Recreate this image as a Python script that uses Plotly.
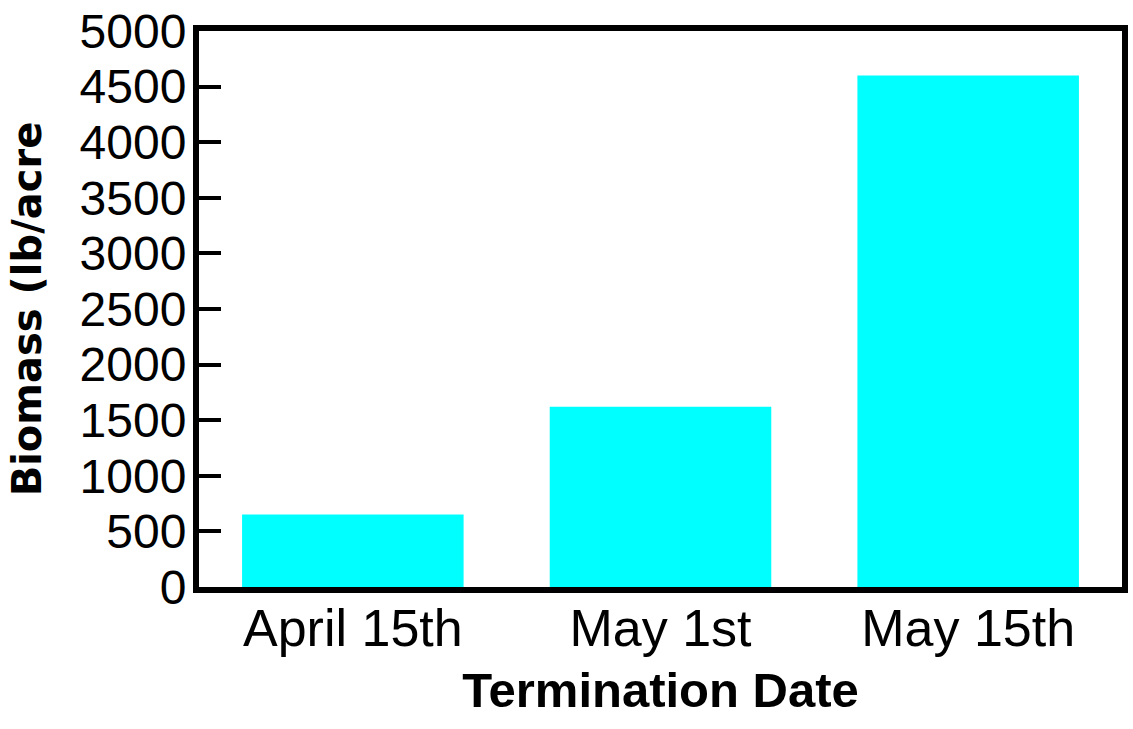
import plotly.graph_objects as go

categories = ["April 15th", "May 1st", "May 15th"]
biomass = [653, 1620, 4600]
y_ticks = [0, 500, 1000, 1500, 2000, 2500, 3000, 3500, 4000, 4500, 5000]

fig = go.Figure(
    go.Bar(x=categories, y=biomass, marker=dict(color="#00FFFF", line=dict(width=0)))
)

fig.update_layout(
    width=1133,
    height=729,
    paper_bgcolor="white",
    plot_bgcolor="white",
    margin=dict(l=199, r=11, t=31, b=142),
    bargap=0.28,
    showlegend=False,
    font=dict(family="Liberation Sans, Arial, sans-serif", color="black"),
)

fig.update_xaxes(
    range=[-0.5, 2.5],
    automargin=False,
    showline=True,
    linecolor="black",
    linewidth=6,
    mirror=True,
    showgrid=False,
    ticks="",
    ticklabelstandoff=-9,
    tickfont=dict(size=52, family="Liberation Sans, Arial, sans-serif", color="black"),
    title=dict(
        text="<b>Termination Date</b>",
        font=dict(size=49, family="Liberation Sans, Arial, sans-serif", color="black"),
        standoff=18,
    ),
)

fig.update_yaxes(
    range=[0, 5000],
    automargin=False,
    tickvals=y_ticks,
    ticktext=[str(v) for v in y_ticks],
    showline=True,
    linecolor="black",
    linewidth=6,
    mirror=True,
    showgrid=False,
    zeroline=False,
    ticks="inside",
    ticklen=22,
    tickwidth=4,
    tickcolor="black",
    ticklabelstandoff=-3,
    tickfont=dict(size=48, family="Liberation Sans, Arial, sans-serif", color="black"),
    title=dict(
        text="<b>Biomass (lb/acre</b>",
        font=dict(size=40, family="DejaVu Sans, Verdana, sans-serif", color="black"),
        standoff=28,
    ),
)

fig.write_html(
    "out.html",
    config={"displayModeBar": False},
    post_script="document.body.style.margin='0';",
)
